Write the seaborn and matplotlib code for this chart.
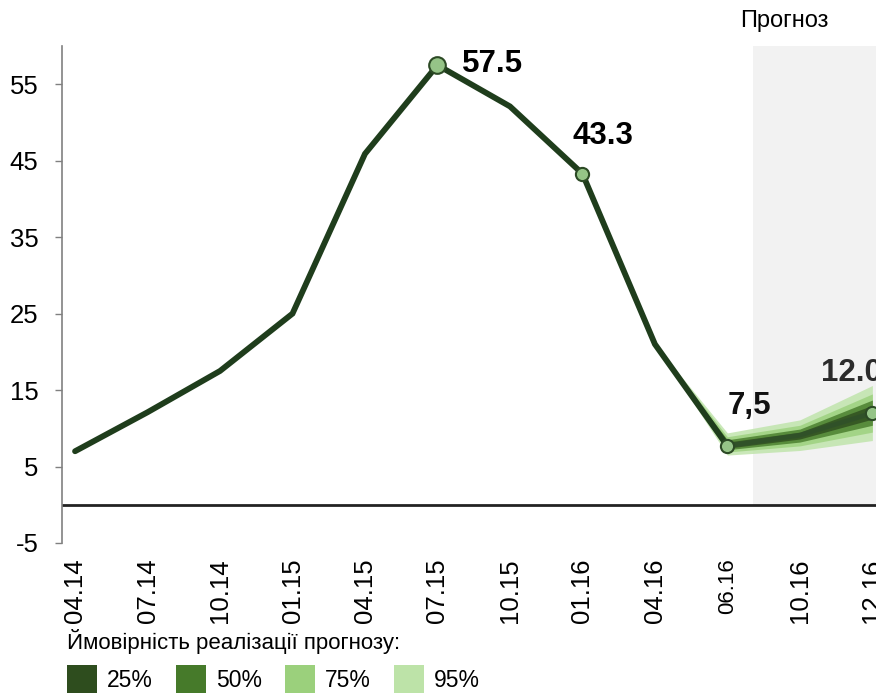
import matplotlib
matplotlib.use("Agg")

import matplotlib.pyplot as plt
import numpy as np
import pandas as pd
import seaborn as sns
from matplotlib.patches import Patch

# ---------------------------------------------------------------------------
# DATA
# ---------------------------------------------------------------------------
periods = ["04.14", "07.14", "10.14", "01.15", "04.15", "07.15",
           "10.15", "01.16", "04.16", "06.16", "10.16", "12.16"]

# actual values, 04.14 .. 06.16
actual = [7.0, 12.1, 17.5, 25.0, 45.9, 57.5, 52.1, 43.3, 21.0, 7.7]

# forecast centre line, 06.16 .. 12.16
forecast_periods = ["06.16", "10.16", "12.16"]
forecast = [7.7, 9.1, 12.0]

# fan chart bands (04.16 .. 12.16)
fan_periods = ["04.16", "06.16", "10.16", "12.16"]
fan_levels = ["95%", "75%", "50%", "25%"]
fan_lower = {
    "95%": [21.0, 6.5, 7.1, 8.4],
    "75%": [21.0, 6.9, 7.7, 9.5],
    "50%": [21.0, 7.2, 8.2, 10.4],
    "25%": [21.0, 7.4, 8.6, 11.2],
}
fan_upper = {
    "95%": [21.0, 9.4, 11.1, 15.6],
    "75%": [21.0, 8.9, 10.4, 14.5],
    "50%": [21.0, 8.5, 9.9, 13.7],
    "25%": [21.0, 8.2, 9.5, 13.0],
}

# labelled points
label_periods = ["07.15", "01.16", "06.16", "12.16"]
label_values = [57.5, 43.3, 7.7, 12.0]
label_texts = ["57.5", "43.3", "7,5", "12.0"]

y_ticks = [-5, 5, 15, 25, 35, 45, 55]

legend_title = "Ймовірність реалізації прогнозу:"
legend_labels = ["25%", "50%", "75%", "95%"]
forecast_title = "Прогноз"

# ---------------------------------------------------------------------------
# STYLE
# ---------------------------------------------------------------------------
LINE_COLOR = "#1f3d1c"
MARKER_FACE = "#95c487"
SHADE_COLOR = "#f2f2f2"
FAN_COLORS = {"25%": "#2e4d1e", "50%": "#467a2a", "75%": "#9bd07c", "95%": "#bde3a8"}
FORECAST_START = 9.35

sns.set_theme(style="white")
plt.rcParams["font.family"] = ["Liberation Sans", "DejaVu Sans"]
plt.rcParams["text.color"] = "black"

pos = {p: i for i, p in enumerate(periods)}

fig = plt.figure(figsize=(8.76, 6.95), dpi=100)
ax = fig.add_axes([62 / 876, 1 - 543 / 695, 814 / 876, 497 / 695])

ax.set_xlim(-0.18, 11.05)
ax.set_ylim(-5, 60)

# forecast shaded area (from zero line up to top)
ymin_frac = (0 - (-5)) / (60 - (-5))
ax.axvspan(FORECAST_START, 12, ymin=ymin_frac, ymax=1, color=SHADE_COLOR, zorder=0, lw=0)

ax.axhline(0, color="#222222", lw=2, zorder=1)

# fan bands
fan_x = [pos[p] for p in fan_periods]
for lvl in fan_levels:
    ax.fill_between(fan_x, fan_lower[lvl], fan_upper[lvl],
                    color=FAN_COLORS[lvl], alpha=0.8, lw=0, zorder=2)

# actual line
act_df = pd.DataFrame({"x": [pos[p] for p in periods[:len(actual)]], "y": actual})
sns.lineplot(data=act_df, x="x", y="y", ax=ax, color=LINE_COLOR, lw=4.2,
             solid_capstyle="round", solid_joinstyle="miter", zorder=4)

# forecast centre line
fc_df = pd.DataFrame({"x": [pos[p] for p in forecast_periods], "y": forecast})
sns.lineplot(data=fc_df, x="x", y="y", ax=ax, color="#2f4f2a", lw=3.5, alpha=0.75, zorder=3)

# markers and labels
offsets = {"57.5": (18, 1), "43.3": (-7, 27), "7,5": (0, 29), "12.0": (-37, 29)}
colors = {"57.5": "black", "43.3": "black", "7,5": "#111111", "12.0": "#2b2b2b"}
for p, v, t in zip(label_periods, label_values, label_texts):
    size = 12 if t == "57.5" else 9.5
    ax.plot(pos[p], v, "o", ms=size, mfc=MARKER_FACE, mec="#2c4a25", mew=1.5, zorder=5)
    ax.annotate(t, (pos[p], v), xytext=offsets[t], textcoords="offset points",
                ha="left", va="center", fontsize=22.5, fontweight="bold",
                color=colors[t], annotation_clip=False)

# axes styling
for s in ["top", "right", "bottom"]:
    ax.spines[s].set_visible(False)
ax.spines["left"].set_color("#808080")
ax.spines["left"].set_linewidth(1.2)

ax.set_yticks(y_ticks)
ax.set_yticklabels([str(v) for v in y_ticks])
ax.tick_params(axis="y", direction="out", length=5, width=1, color="#808080",
               labelsize=18.5, pad=12, left=True, labelcolor="black")
ax.set_xticks(range(len(periods)))
ax.set_xticklabels(periods, rotation=90, va="top", ha="center")
ax.tick_params(axis="x", length=0, labelsize=18.5, pad=11, labelcolor="black")
# the 06.16 label is set in a narrower, shorter face in the original
lbl = ax.get_xticklabels()[pos["06.16"]]
lbl.set_family(["Liberation Sans Narrow", "Liberation Sans"])
lbl.set_fontsize(16)
ax.set_xlabel("")
ax.set_ylabel("")

fig.text(740 / 876, 1 - 21 / 695, forecast_title, fontsize=17, ha="left", va="center")

handles = [Patch(facecolor=FAN_COLORS[l], edgecolor="none") for l in legend_labels]
leg = fig.legend(handles, legend_labels, title=legend_title, loc="upper left",
                 bbox_to_anchor=(67 / 876, 1 - 629 / 695), ncol=4, frameon=False,
                 fontsize=16.5, title_fontsize=16, alignment="left",
                 handlelength=1.3, handleheight=1.45, handletextpad=0.45,
                 columnspacing=1.0, borderpad=0, borderaxespad=0, labelspacing=0.5)
for t in leg.get_texts():
    t.set_color("black")

fig.savefig("out.png", dpi=100)
